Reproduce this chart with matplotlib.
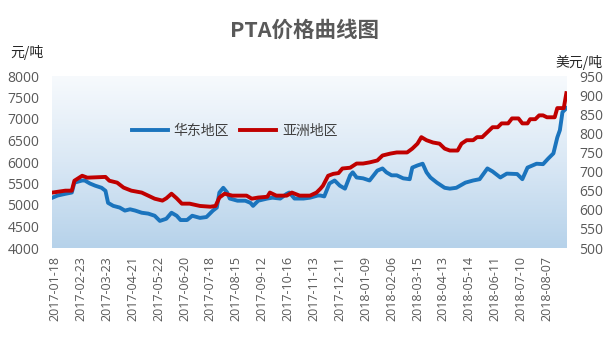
import numpy as np
import matplotlib
matplotlib.use("Agg")
import matplotlib.pyplot as plt
from matplotlib.colors import LinearSegmentedColormap

plt.rcParams['font.family'] = ['Noto Sans CJK SC', 'DejaVu Sans']

# ---------------- data ----------------
tick_labels = ["2017-01-18", "2017-02-23", "2017-03-23", "2017-04-21", "2017-05-22",
               "2017-06-20", "2017-07-18", "2017-08-15", "2017-09-12", "2017-10-16",
               "2017-11-13", "2017-12-11", "2018-01-09", "2018-02-06", "2018-03-15",
               "2018-04-13", "2018-05-14", "2018-06-11", "2018-07-10", "2018-08-07"]
tick_step = 20  # trading days between labelled dates

# 华东地区 (元/吨), trading-day index -> price
east_idx = [-2, 2, 8, 13, 15, 21, 23, 27, 31, 36, 39, 41, 45, 50, 54, 58, 62, 67, 72, 77,
            81, 86, 90, 94, 97, 102, 106, 112, 117, 122, 125, 127, 130, 133, 135, 141, 147,
            151, 153, 157, 164, 168, 174, 179, 181, 185, 192, 197, 203, 205, 208, 212, 216,
            220, 224, 228, 230, 233, 238, 243, 249, 253, 256, 260, 264, 269, 274, 276, 280,
            284, 287, 290, 295, 301, 305, 310, 317, 323, 328, 334, 338, 344, 349, 357, 361,
            365, 372, 377, 381, 385, 388, 390, 392, 395]
east_val = [5170, 5220, 5260, 5290, 5520, 5570, 5570, 5500, 5450, 5400, 5330, 5050, 4980,
            4940, 4870, 4900, 4870, 4820, 4800, 4750, 4630, 4680, 4820, 4750, 4650, 4650,
            4750, 4700, 4720, 4870, 4940, 5290, 5400, 5290, 5150, 5100, 5100, 5050, 4980,
            5100, 5150, 5170, 5150, 5260, 5290, 5150, 5150, 5170, 5220, 5220, 5200, 5500,
            5570, 5450, 5380, 5690, 5760, 5640, 5620, 5570, 5800, 5850, 5760, 5690, 5690,
            5620, 5600, 5870, 5920, 5960, 5760, 5640, 5520, 5400, 5380, 5400, 5520, 5570,
            5600, 5850, 5780, 5640, 5730, 5720, 5600, 5870, 5960, 5950, 6080, 6200, 6570,
            6740, 7160, 7250]

# 亚洲地区 (美元/吨)
asia_idx = [-2, 8, 13, 15, 21, 25, 39, 42, 48, 53, 59, 67, 72, 77, 83, 86, 90, 94, 98, 104,
            112, 120, 124, 127, 131, 137, 148, 152, 157, 164, 166, 171, 179, 183, 189, 197,
            202, 205, 207, 211, 215, 219, 222, 228, 233, 238, 243, 249, 253, 259, 264, 272,
            276, 280, 283, 287, 292, 297, 301, 305, 311, 314, 318, 323, 326, 330, 334, 338,
            342, 345, 350, 353, 358, 361, 365, 367, 371, 374, 377, 380, 386, 388, 393, 395]
asia_val = [645, 650, 650, 676, 689, 684, 686, 676, 671, 658, 650, 645, 637, 629, 624, 630,
            642, 630, 616, 616, 610, 608, 610, 632, 642, 637, 637, 629, 632, 634, 645, 637,
            637, 645, 637, 637, 645, 655, 663, 689, 694, 696, 708, 710, 721, 721, 724, 729,
            742, 747, 750, 750, 760, 773, 790, 782, 776, 773, 760, 755, 755, 773, 782, 782,
            790, 790, 803, 816, 816, 826, 826, 839, 839, 826, 826, 837, 837, 847, 847, 842,
            842, 866, 866, 905]

# ---------------- figure ----------------
fig = plt.figure(figsize=(6.16, 3.56), dpi=100)
fig.patch.set_facecolor('white')
L, R, B, T = 52 / 616, 567 / 616, 1 - 248 / 356, 1 - 76 / 356
ax = fig.add_axes([L, B, R - L, T - B])
ax2 = ax.twinx()

# gradient background
cmap = LinearSegmentedColormap.from_list('bg', ['#f7fafd', '#dae8f5', '#b6d2ea'])
grad = np.linspace(0, 1, 256).reshape(-1, 1)
ax.imshow(grad, cmap=cmap, aspect='auto', extent=[0, 1, 0, 1], transform=ax.transAxes,
          zorder=0, origin='upper')

blue = '#1b74bd'
red = '#c00000'
l1, = ax.plot(east_idx, east_val, color=blue, lw=2.8, solid_joinstyle='round', zorder=3,
              label='华东地区')
l2, = ax2.plot(asia_idx, asia_val, color=red, lw=2.8, solid_joinstyle='round', zorder=3,
               label='亚洲地区')

ax.set_xlim(-2.3, 395.5)
ax.set_ylim(4000, 8000)
ax2.set_ylim(500, 950)
ax.set_yticks(np.arange(4000, 8001, 500))
ax2.set_yticks(np.arange(500, 951, 50))

ticks = [i * tick_step for i in range(len(tick_labels))]
ax.set_xticks(ticks)
ax.set_xticklabels(tick_labels, rotation=90, fontsize=9, color='#595959',
                   family=['Open Sans', 'DejaVu Sans'])

for a in (ax, ax2):
    for s in a.spines.values():
        s.set_visible(False)
    a.tick_params(length=0)
ax.tick_params(axis='x', pad=6)
ax.tick_params(axis='y', pad=9, labelsize=10, labelcolor='#595959')
ax2.tick_params(axis='y', pad=9, labelsize=10, labelcolor='#595959')
for lab in ax.get_yticklabels() + ax2.get_yticklabels():
    lab.set_family(['Open Sans', 'DejaVu Sans'])
ax2.patch.set_visible(False)

leg = ax2.legend(handles=[l1, l2], ncol=2, frameon=False, loc='center',
                 bbox_to_anchor=(0.355, 0.68), fontsize=10, handlelength=2.6,
                 handletextpad=0.4, columnspacing=0.8, labelcolor='#404040')

fig.text(0.495, 1 - 30 / 356, 'PTA价格曲线图', ha='center', va='center', fontsize=15.5,
         fontweight='bold', color='#595959')
fig.text(10 / 616, 1 - 52 / 356, '元/吨', ha='left', va='center', fontsize=10, color='#262626')
fig.text(603 / 616, 1 - 62 / 356, '美元/吨', ha='right', va='center', fontsize=10,
         color='#262626')

fig.savefig('out.png', dpi=100)
